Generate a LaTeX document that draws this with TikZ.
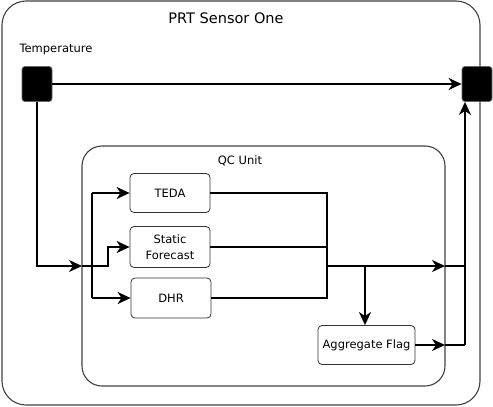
\documentclass[tikz,border=0pt]{standalone}
\usepackage{fontspec}
\setmainfont{DejaVu Sans}
\usetikzlibrary{arrows.meta,positioning}
\begin{document}
\begin{tikzpicture}[x=1pt,y=-1pt,
		font=\fontsize{11.5}{15.5}\selectfont,
		container/.style={draw=black!75,line width=1.1pt,rounded corners=24pt,inner sep=0pt},
		port/.style={draw=black!60,fill=black,line width=.8pt,rounded corners=3pt,minimum width=30pt,minimum height=35pt,inner sep=0pt},
		block/.style={draw=black!80,fill=white,line width=.8pt,rounded corners=4pt,minimum width=80pt,minimum height=40pt,align=center,inner sep=2pt},
		wire/.style={line width=2pt},
		flow/.style={wire,-{Stealth[length=13pt,width=12pt,inset=4pt]}}]
	\useasboundingbox(0,0)rectangle(493,407);
	\node[container,minimum width=478pt,minimum height=404pt](sensor)at(241,203){};
	\node[container,minimum width=363pt,minimum height=240pt,rounded corners=20pt](qc)at(263.5,266){};
	\node(sensorlbl)at(226,18){\fontsize{14.5}{16}\selectfont PRT Sensor One};
	\node(qclbl)at(240,161){QC Unit};
	\node[port](tin)at(37,84){};
	\node[port](tout)at(477,84){};
	\node(templbl)at(56,50){Temperature};
	\node[block,minimum height=39pt](teda)at(170,193){TEDA};
	\node[block,minimum height=41pt](static)at(170,247){Static\\Forecast};
	\node[block](dhr)at(171,298){DHR};
	\node[block,minimum width=97pt,minimum height=39pt](aggr)at(366.5,345){Aggregate Flag};
	\coordinate(qcin)at(82,266);
	\coordinate(tap)at(92,266);
	\coordinate(fork)at(108,247);
	\coordinate(merge)at(327,266);
	\coordinate(drop)at(365,266);
	\coordinate(qcout)at(445,266);
	\coordinate(qcflag)at(445,345);
	\coordinate(bus)at(465,345);
	\draw[flow](tin)--(tout);
	\draw[flow](tin.south)|-(qcin);
	\draw[flow](qcin)-|(fork)--(static.west);
	\draw[flow](tap|-teda)--(teda.west);
	\draw[flow](tap|-dhr)--(dhr.west);
	\draw[wire](tap|-teda)--(tap|-dhr);
	\draw[wire](teda.east)-|(merge);
	\draw[wire](dhr.east)-|(merge);
	\draw[wire](static.east)--(static.east-|merge);
	\draw[flow](merge)--(qcout);
	\draw[flow](drop)--(drop|-aggr.north);
	\draw[flow](aggr.east)--(qcflag);
	\draw[wire](qcout)--(bus|-qcout);
	\draw[wire](qcflag)--(bus);
	\draw[flow](bus)--(bus|-tout.south);
\end{tikzpicture}
\end{document}
